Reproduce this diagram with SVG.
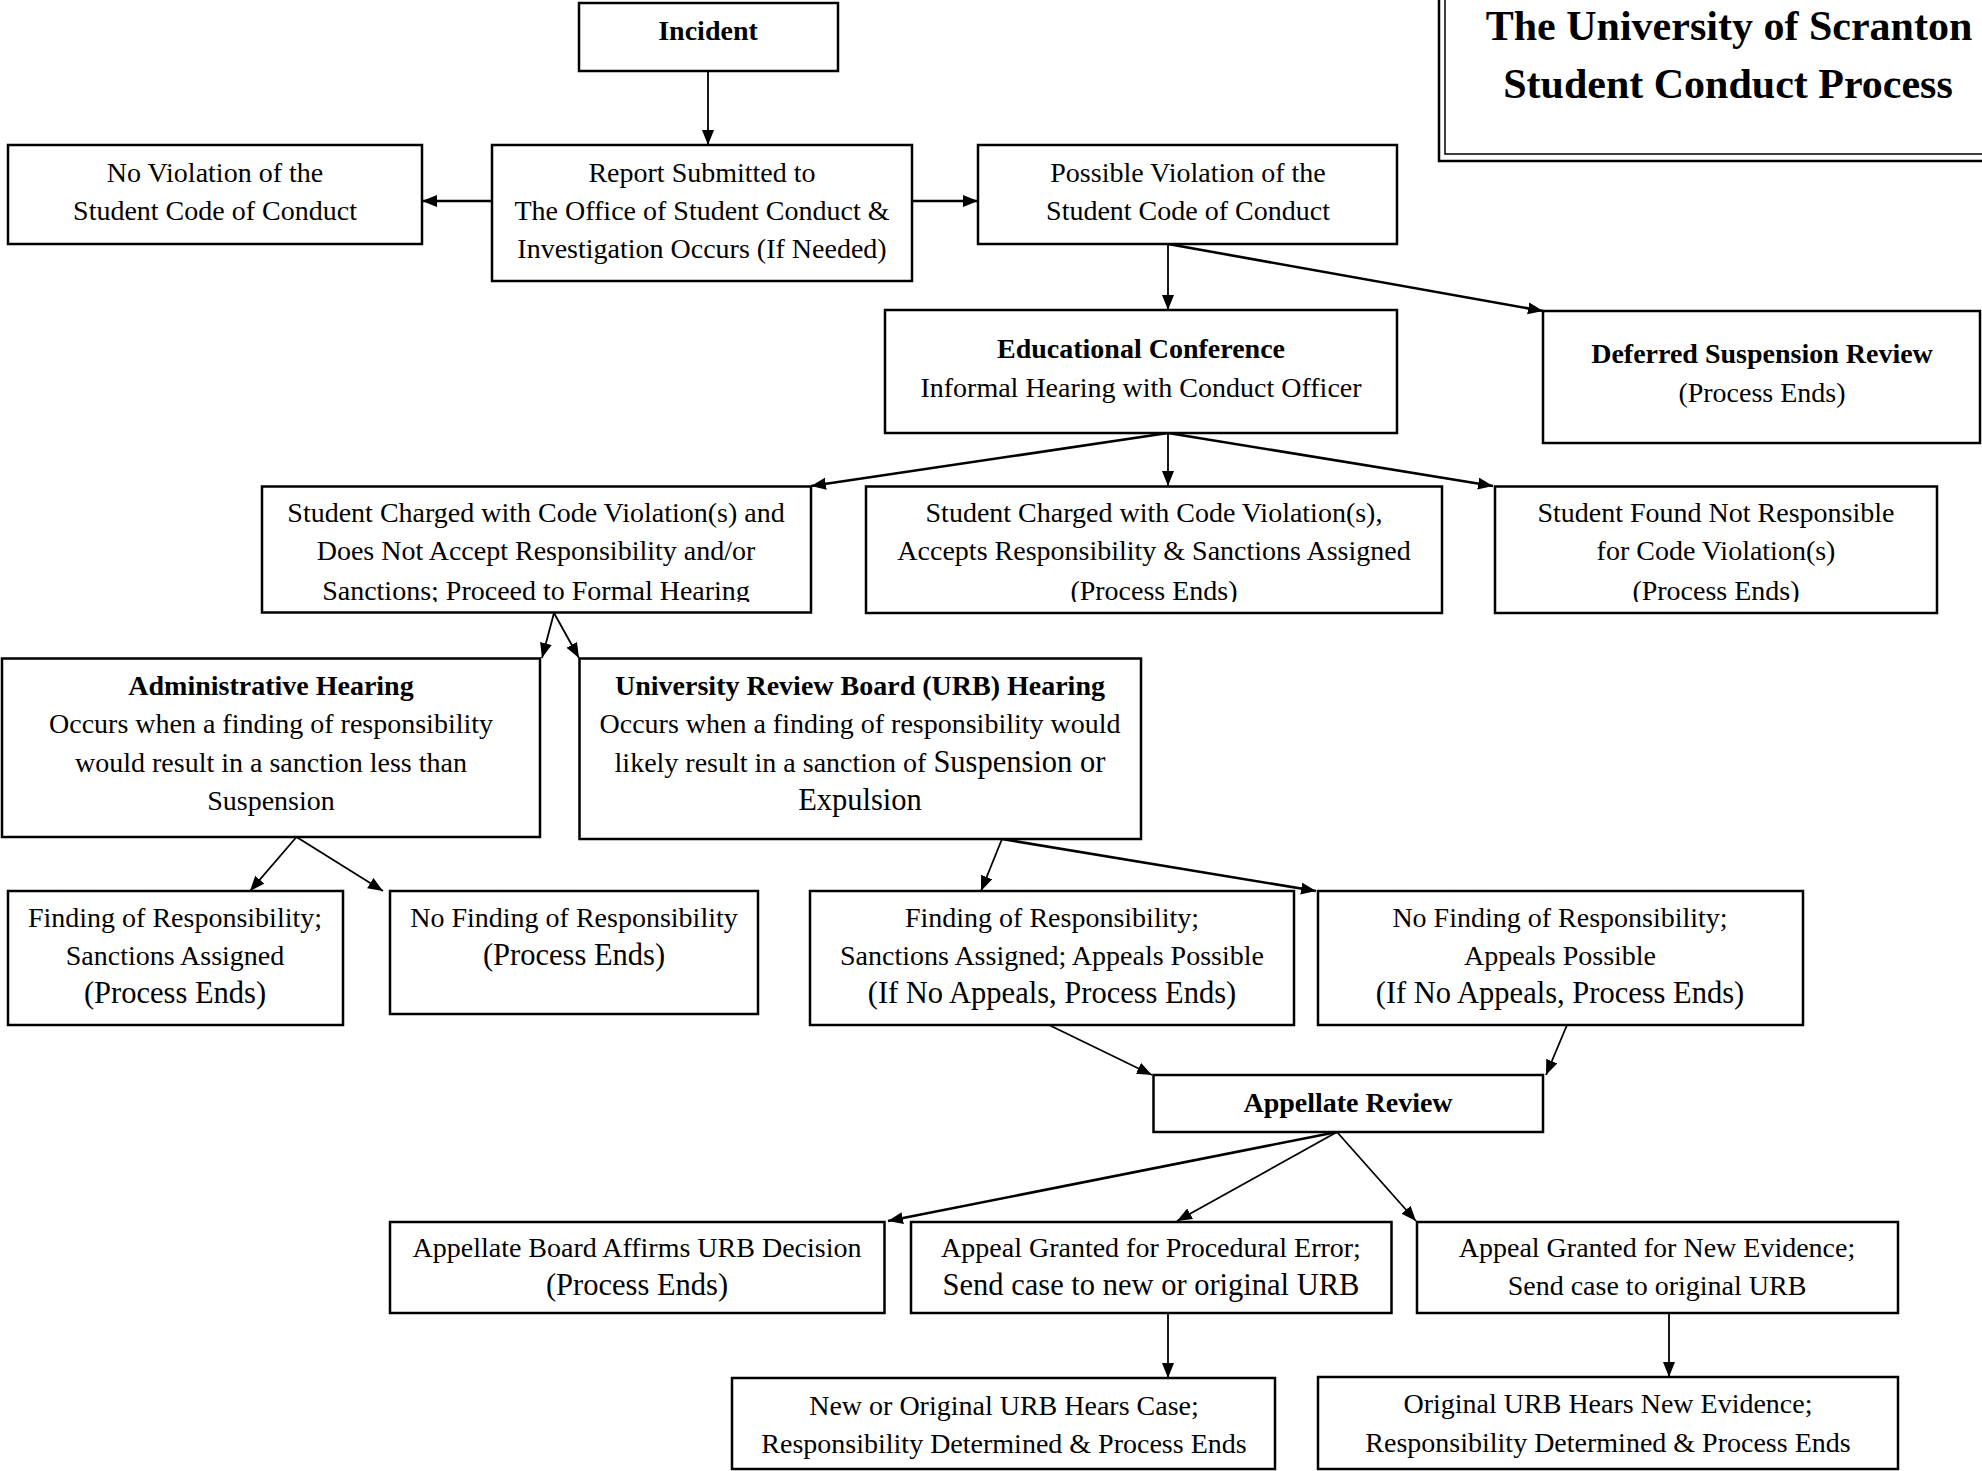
<svg xmlns="http://www.w3.org/2000/svg" width="1982" height="1471" viewBox="0 0 1982 1471">
<style>
.box{fill:#fff;stroke:#000;stroke-width:2.5}
.t{font-family:"Liberation Serif","Times New Roman",serif;font-size:28px;fill:#000;text-anchor:middle}
.b{font-weight:bold}
.lg{font-size:30.5px}
.title{font-family:"Liberation Serif","Times New Roman",serif;font-size:42px;font-weight:bold;fill:#000;text-anchor:middle}
.c{stroke:#000;stroke-width:1.8;fill:none;marker-end:url(#ah)}
.w{stroke-width:2.6}
</style>
<defs>
<marker id="ah" markerUnits="userSpaceOnUse" markerWidth="17" markerHeight="14" refX="15" refY="6" orient="auto">
<path d="M0,0 L15,6 L0,12 z" fill="#000"/>
</marker>
<clipPath id="clipRow"><rect x="0" y="480" width="1982" height="122"/></clipPath>
</defs>
<rect width="1982" height="1471" fill="#fff"/>

<g id="title">
<rect x="1439" y="-10" width="560" height="171" fill="#fff" stroke="#000" stroke-width="2.5"/>
<rect x="1445" y="-10" width="560" height="164" fill="none" stroke="#000" stroke-width="1.5"/>
<text class="title" x="1729" y="40">The University of Scranton</text>
<text class="title" x="1728" y="98">Student Conduct Process</text>
</g>

<g id="connectors">
<line class="c" x1="708" y1="71" x2="708" y2="145"/>
<line class="c w" x1="492" y1="201" x2="422" y2="201"/>
<line class="c w" x1="912" y1="201" x2="978" y2="201"/>
<line class="c" x1="1168" y1="244" x2="1168" y2="310"/>
<line class="c w" x1="1168" y1="244" x2="1543" y2="311"/>
<line class="c w" x1="1168" y1="433" x2="811" y2="486"/>
<line class="c" x1="1168" y1="433" x2="1168" y2="486"/>
<line class="c w" x1="1168" y1="433" x2="1493" y2="486"/>
<line class="c" x1="554" y1="613" x2="542" y2="658"/>
<line class="c" x1="554" y1="613" x2="579" y2="658"/>
<line class="c" x1="296.5" y1="837" x2="250" y2="891"/>
<line class="c" x1="296.5" y1="837" x2="383" y2="891"/>
<line class="c" x1="1002" y1="839" x2="981" y2="891"/>
<line class="c w" x1="1002" y1="839" x2="1316" y2="891"/>
<line class="c" x1="1049" y1="1025" x2="1152" y2="1075"/>
<line class="c" x1="1567" y1="1025" x2="1546" y2="1075"/>
<line class="c w" x1="1337" y1="1132" x2="888" y2="1221"/>
<line class="c" x1="1337" y1="1132" x2="1177" y2="1221"/>
<line class="c" x1="1337" y1="1132" x2="1416" y2="1221"/>
<line class="c" x1="1168" y1="1313" x2="1168" y2="1378"/>
<line class="c" x1="1669" y1="1313" x2="1669" y2="1377"/>
</g>

<g id="incident">
<rect class="box" x="579" y="3" width="259" height="68"/>
<text class="t b" x="708" y="40">Incident</text>
</g>

<g id="no-violation">
<rect class="box" x="8" y="145" width="414" height="99"/>
<text class="t" x="215" y="182">No Violation of the</text>
<text class="t" x="215" y="220">Student Code of Conduct</text>
</g>

<g id="report">
<rect class="box" x="492" y="145" width="420" height="136"/>
<text class="t" x="702" y="182">Report Submitted to</text>
<text class="t" x="702" y="220">The Office of Student Conduct &amp;</text>
<text class="t" x="702" y="258">Investigation Occurs (If Needed)</text>
</g>

<g id="possible-violation">
<rect class="box" x="978" y="145" width="419" height="99"/>
<text class="t" x="1188" y="182">Possible Violation of the</text>
<text class="t" x="1188" y="220">Student Code of Conduct</text>
</g>

<g id="educational-conference">
<rect class="box" x="885" y="310" width="512" height="123"/>
<text class="t b" x="1141" y="358">Educational Conference</text>
<text class="t" x="1141" y="397">Informal Hearing with Conduct Officer</text>
</g>

<g id="deferred-suspension">
<rect class="box" x="1543" y="311" width="437" height="132"/>
<text class="t b" x="1762" y="363">Deferred Suspension Review</text>
<text class="t" x="1762" y="402">(Process Ends)</text>
</g>

<g id="charged-not-accept">
<rect class="box" x="262" y="486.5" width="549" height="126"/>
<g clip-path="url(#clipRow)">
<text class="t" x="536" y="522">Student Charged with Code Violation(s) and</text>
<text class="t" x="536" y="560">Does Not Accept Responsibility and/or</text>
<text class="t" x="536" y="600">Sanctions; Proceed to Formal Hearing</text>
</g>
</g>

<g id="charged-accepts">
<rect class="box" x="866" y="486.5" width="576" height="126.5"/>
<g clip-path="url(#clipRow)">
<text class="t" x="1154" y="522">Student Charged with Code Violation(s),</text>
<text class="t" x="1154" y="560">Accepts Responsibility &amp; Sanctions Assigned</text>
<text class="t" x="1154" y="600">(Process Ends)</text>
</g>
</g>

<g id="not-responsible">
<rect class="box" x="1495" y="486.5" width="442" height="126.5"/>
<g clip-path="url(#clipRow)">
<text class="t" x="1716" y="522">Student Found Not Responsible</text>
<text class="t" x="1716" y="560">for Code Violation(s)</text>
<text class="t" x="1716" y="600">(Process Ends)</text>
</g>
</g>

<g id="administrative-hearing">
<rect class="box" x="2" y="658.5" width="538" height="178.5"/>
<text class="t b" x="271" y="695">Administrative Hearing</text>
<text class="t" x="271" y="733">Occurs when a finding of responsibility</text>
<text class="t" x="271" y="772">would result in a sanction less than</text>
<text class="t" x="271" y="810">Suspension</text>
</g>

<g id="urb-hearing">
<rect class="box" x="579.5" y="658.5" width="561.5" height="180.5"/>
<text class="t b" x="860" y="695">University Review Board (URB) Hearing</text>
<text class="t" x="860" y="733">Occurs when a finding of responsibility would</text>
<text class="t" x="860" y="772">likely result in a sanction of <tspan class="lg">Suspension or</tspan></text>
<text class="t lg" x="860" y="810">Expulsion</text>
</g>

<g id="admin-finding">
<rect class="box" x="8" y="891" width="335" height="134"/>
<text class="t" x="175" y="927">Finding of Responsibility;</text>
<text class="t" x="175" y="965">Sanctions Assigned</text>
<text class="t lg" x="175" y="1003">(Process Ends)</text>
</g>

<g id="admin-no-finding">
<rect class="box" x="390" y="891" width="368" height="123"/>
<text class="t" x="574" y="927">No Finding of Responsibility</text>
<text class="t lg" x="574" y="965">(Process Ends)</text>
</g>

<g id="urb-finding">
<rect class="box" x="810" y="891" width="484" height="134"/>
<text class="t" x="1052" y="927">Finding of Responsibility;</text>
<text class="t" x="1052" y="965">Sanctions Assigned; Appeals Possible</text>
<text class="t lg" x="1052" y="1003">(If No Appeals, Process Ends)</text>
</g>

<g id="urb-no-finding">
<rect class="box" x="1318" y="891" width="485" height="134"/>
<text class="t" x="1560" y="927">No Finding of Responsibility;</text>
<text class="t" x="1560" y="965">Appeals Possible</text>
<text class="t lg" x="1560" y="1003">(If No Appeals, Process Ends)</text>
</g>

<g id="appellate-review">
<rect class="box" x="1153.5" y="1075" width="389.5" height="57"/>
<text class="t b" x="1348" y="1112">Appellate Review</text>
</g>

<g id="affirms">
<rect class="box" x="390" y="1222" width="494.5" height="91"/>
<text class="t" x="637" y="1257">Appellate Board Affirms URB Decision</text>
<text class="t lg" x="637" y="1295">(Process Ends)</text>
</g>

<g id="procedural-error">
<rect class="box" x="911" y="1222" width="480.5" height="91"/>
<text class="t" x="1151" y="1257">Appeal Granted for Procedural Error;</text>
<text class="t lg" x="1151" y="1295">Send case to new or original URB</text>
</g>

<g id="new-evidence">
<rect class="box" x="1417" y="1222" width="481" height="91"/>
<text class="t" x="1657" y="1257">Appeal Granted for New Evidence;</text>
<text class="t" x="1657" y="1295">Send case to original URB</text>
</g>

<g id="new-or-original-hears">
<rect class="box" x="732" y="1378" width="543" height="91"/>
<text class="t" x="1004" y="1415">New or Original URB Hears Case;</text>
<text class="t" x="1004" y="1453">Responsibility Determined &amp; Process Ends</text>
</g>

<g id="original-hears">
<rect class="box" x="1318" y="1377" width="580" height="92"/>
<text class="t" x="1608" y="1413">Original URB Hears New Evidence;</text>
<text class="t" x="1608" y="1452">Responsibility Determined &amp; Process Ends</text>
</g>
</svg>
